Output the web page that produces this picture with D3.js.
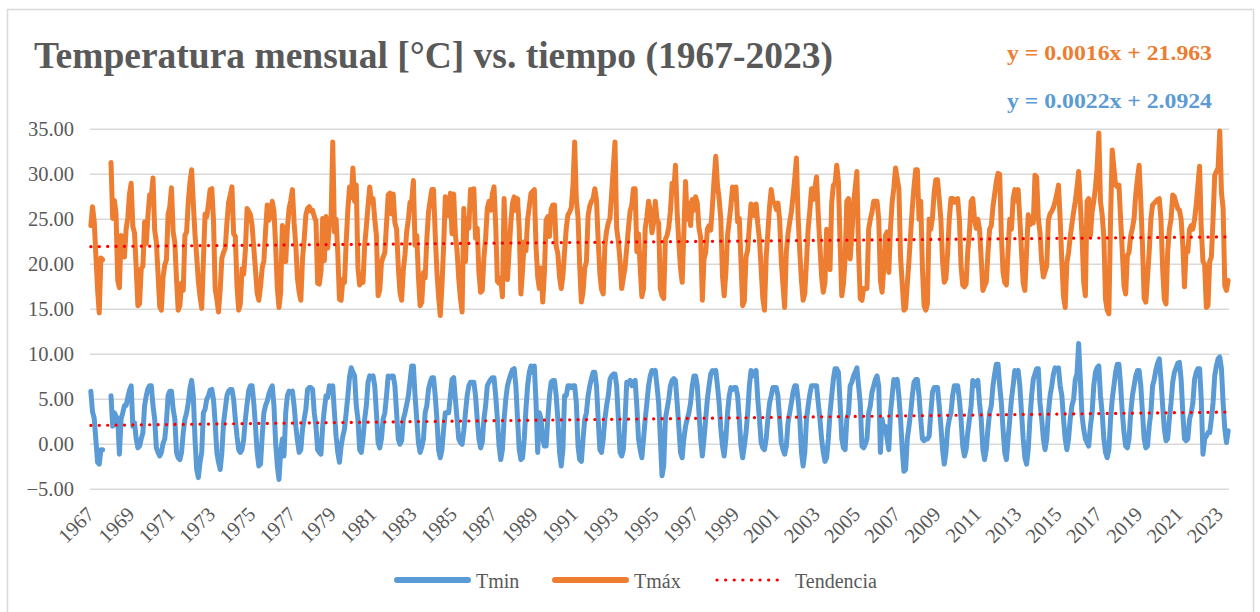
<!DOCTYPE html>
<html>
<head>
<meta charset="utf-8">
<script src="https://cdn.jsdelivr.net/npm/d3@7/dist/d3.min.js"></script>
<style>
  html, body { margin: 0; padding: 0; background: #fff; }
  svg { display: block; font-family: "Liberation Serif", "Times New Roman", serif; }
</style>
</head>
<body>
<svg id="chart" width="1260" height="612"></svg>
<script>
// monthly values, Jan 1967 .. Jun 2023, one row per year
const tmax = [
  24.3,26.4,24.8,21.0,17.2,14.6,20.7,20.5,null,null,null,null,
  31.3,25.1,27.1,25.6,18.2,17.4,23.2,23.0,20.8,23.9,25.2,27.8,
  29.0,24.2,23.5,19.6,15.4,15.6,19.5,19.8,24.7,22.3,25.4,27.7,
  27.6,29.6,23.8,22.5,18.9,15.3,14.9,18.6,19.9,20.5,25.6,26.4,
  28.5,23.6,22.4,18.3,14.9,15.4,17.9,17.1,23.2,23.6,26.9,29.1,
  30.5,26.8,23.3,20.9,18.1,16.4,15.1,20.4,25.6,25.3,26.7,28.3,
  28.4,25.0,17.3,16.1,14.7,17.2,20.7,21.3,21.8,24.6,26.9,27.7,
  28.6,23.4,23.1,17.6,14.9,15.6,19.5,18.9,21.6,26.2,25.9,25.5,
  24.3,21.8,19.4,16.8,16.0,17.5,19.6,20.4,23.7,26.6,24.9,25.5,
  27.0,25.9,22.1,17.4,15.2,16.9,24.3,23.6,20.3,24.0,26.2,27.1,
  28.3,24.6,22.1,18.4,16.9,16.0,20.6,22.8,25.5,26.2,26.4,25.9,
  26.0,25.3,24.8,17.9,17.8,19.2,25.1,20.4,25.3,21.8,24.5,25.0,
  33.6,23.6,25.0,21.2,16.1,16.0,18.3,18.0,22.5,26.1,28.6,27.4,
  30.7,27.0,28.8,19.6,17.7,18.2,18.0,22.1,24.2,26.5,28.6,26.9,
  27.3,25.0,23.2,16.5,17.2,20.2,20.8,21.3,24.5,27.7,27.9,25.6,
  27.8,24.6,23.9,19.8,16.9,16.0,19.3,21.1,23.6,25.0,26.9,27.0,
  29.3,22.1,23.2,18.6,15.4,15.8,19.1,18.5,22.8,25.8,27.1,28.3,
  28.3,23.3,19.2,16.4,14.3,17.6,22.0,27.5,27.2,25.4,27.9,23.4,
  27.8,23.3,21.5,18.4,16.2,14.7,26.2,20.3,25.1,24.0,28.3,27.1,
  28.4,22.9,24.0,19.1,16.9,17.1,20.8,22.9,26.2,27.0,26.0,27.8,
  28.6,24.3,18.1,17.9,18.5,16.4,27.3,22.0,18.3,21.5,24.6,26.8,
  27.5,26.0,27.3,24.0,16.7,19.4,22.5,21.5,25.0,26.4,27.9,28.1,
  28.3,22.0,18.6,17.3,19.6,15.8,19.1,24.9,25.3,23.1,26.1,26.6,
  26.6,22.0,21.2,18.6,17.3,18.7,21.4,24.0,25.5,25.8,26.3,28.8,
  33.6,27.2,25.2,19.8,15.8,16.9,19.6,20.3,25.4,26.5,27.0,27.3,
  28.4,27.1,22.6,19.0,17.2,16.7,22.1,23.7,24.6,25.1,27.8,30.7,
  33.6,24.0,22.6,20.4,17.3,18.5,19.7,21.8,24.0,25.9,26.6,28.4,
  28.4,21.4,23.4,19.6,16.4,17.3,24.0,25.3,27.0,25.9,23.5,24.6,
  27.0,25.0,24.6,17.3,16.5,16.2,22.8,23.2,24.1,25.9,29.0,28.1,
  31.0,25.8,22.4,19.6,18.0,23.5,29.2,25.0,26.8,24.3,27.2,26.0,
  27.5,26.8,24.0,23.0,16.0,20.6,21.3,23.9,24.3,23.8,26.5,29.4,
  32.0,28.8,27.3,25.0,18.7,16.5,19.1,23.2,24.8,26.5,28.6,27.3,
  28.6,24.7,25.1,20.3,15.4,15.9,20.8,21.6,24.3,26.7,26.5,25.4,
  26.7,24.5,22.8,19.5,16.2,14.9,20.8,23.5,26.4,28.3,27.0,26.8,
  26.1,26.8,25.0,20.3,17.7,15.2,21.4,23.4,24.7,25.8,27.6,29.5,
  31.8,25.3,21.4,18.2,16.0,16.8,20.3,24.0,26.0,28.4,27.2,28.5,
  29.7,25.5,22.0,18.6,16.9,18.0,23.9,23.5,19.4,26.8,28.8,29.0,
  31.0,29.2,22.4,16.5,17.8,20.6,27.0,27.3,20.6,23.3,26.8,28.5,
  30.3,21.4,16.2,16.0,17.3,17.3,17.3,23.9,25.0,25.8,27.0,27.0,
  27.0,25.0,18.2,16.9,19.6,23.2,23.6,19.1,24.0,26.9,28.5,30.7,
  29.5,28.4,20.8,17.8,14.9,15.1,17.8,20.4,23.4,26.3,28.6,30.5,
  30.5,25.0,27.0,19.6,15.4,14.9,15.6,25.0,23.9,25.2,28.0,29.4,
  29.4,27.3,25.0,20.3,18.0,18.4,21.2,25.0,27.3,27.3,26.9,27.2,
  27.3,25.0,19.8,17.7,17.5,17.8,21.5,23.5,27.0,27.3,25.0,24.0,
  25.0,23.9,20.6,17.1,17.6,18.0,21.2,23.9,24.3,26.4,27.8,29.2,
  30.1,30.0,23.2,19.1,18.0,17.7,21.5,25.0,23.9,27.3,28.3,27.0,
  28.3,25.0,21.4,17.9,17.1,21.4,25.5,24.4,25.0,24.6,29.9,29.7,
  25.1,23.5,20.3,18.6,19.2,19.8,24.9,25.6,25.9,26.3,27.0,27.8,
  28.8,25.0,20.3,16.4,15.2,20.2,21.3,23.1,24.5,25.8,27.0,28.5,
  30.3,26.7,23.2,18.0,16.5,27.0,27.3,23.2,25.8,27.0,28.5,30.7,
  34.6,27.0,25.5,23.0,16.1,14.9,14.5,25.1,32.7,30.7,28.8,28.6,
  28.8,25.0,21.4,17.6,16.7,21.0,21.3,23.2,24.0,25.1,27.8,29.5,
  31.0,27.0,22.1,16.2,15.8,18.6,21.4,25.0,26.6,26.8,27.0,27.2,
  27.3,25.0,19.5,16.1,15.6,21.4,23.9,25.0,27.7,27.5,26.8,26.2,
  26.0,25.0,22.1,17.5,21.8,21.4,23.9,24.3,23.9,25.0,26.6,28.8,
  30.9,23.9,20.3,20.0,15.2,15.4,20.3,20.8,25.0,29.9,30.3,30.7,
  34.8,28.0,26.2,17.6,17.1,18.2
];

const tmin = [
  5.9,3.6,2.9,0.5,-2.0,-2.2,-0.6,-0.6,null,null,null,null,
  5.4,2.0,3.5,3.1,2.8,-1.1,2.8,3.5,4.3,4.3,5.2,6.0,
  6.5,2.0,2.4,0.6,-0.4,-0.2,0.6,1.3,4.3,5.4,6.2,6.5,
  6.5,4.3,2.8,-0.4,-0.9,-1.3,-0.9,0.1,0.6,2.5,5.4,5.9,
  5.9,3.9,2.8,-0.9,-1.5,-1.7,-0.9,1.3,2.8,3.5,4.6,6.2,
  7.1,5.4,0.6,-2.8,-3.7,-2.0,-0.9,3.5,3.9,5.0,5.4,6.0,
  6.1,5.0,2.4,-0.9,-2.0,-2.8,-0.9,2.4,3.9,5.4,5.9,6.1,
  6.1,5.0,2.8,0.9,-0.6,-0.9,-0.6,0.6,2.8,4.5,6.0,6.5,
  6.5,4.6,2.0,-0.9,-2.4,-2.2,0.9,3.5,4.3,4.8,5.6,6.1,
  6.5,4.3,0.2,-2.4,-3.9,-0.9,0.6,-1.3,3.5,5.4,5.9,5.8,
  5.9,4.3,2.0,0.4,-0.9,-0.6,1.7,2.8,3.9,6.1,6.3,6.3,
  6.1,3.5,2.0,-0.6,-0.9,-1.1,2.0,3.9,5.4,5.2,6.5,6.3,
  6.5,3.5,0.9,-0.9,-2.0,-0.2,0.9,1.7,3.5,5.4,7.5,8.5,
  8.0,7.6,4.3,2.8,-0.6,-0.9,0.6,2.8,4.3,6.9,7.6,7.4,
  7.6,6.5,3.5,0.2,-0.4,0.6,2.8,3.5,5.4,7.6,7.4,7.6,
  7.6,6.5,3.5,0.6,0.0,0.4,2.8,3.5,4.4,5.4,7.0,8.7,
  8.7,5.4,2.8,0.2,-0.9,-0.3,0.6,3.5,4.3,6.1,6.9,7.4,
  7.4,5.4,2.8,-0.6,-1.5,-0.6,1.7,3.5,3.5,3.5,5.4,7.2,
  7.4,5.0,2.8,0.6,0.2,0.0,1.5,3.5,5.4,6.5,6.9,6.9,
  6.9,5.4,2.8,0.6,-0.4,0.2,2.8,4.3,6.5,6.9,7.2,7.4,
  7.4,5.4,2.8,-0.2,-1.7,-0.6,2.8,5.0,6.5,7.2,7.8,8.3,
  8.4,6.5,2.8,-0.6,-1.7,-1.5,0.6,3.9,6.5,8.0,8.7,8.0,
  8.7,4.6,-0.9,3.5,2.8,0.6,-0.2,-0.2,2.8,5.4,6.9,7.1,
  7.1,5.4,2.8,-0.9,-2.4,-0.6,5.4,5.4,6.5,6.5,6.3,6.5,
  6.5,4.6,-0.2,-1.7,-1.9,0.6,2.8,3.5,5.4,6.5,7.3,8.0,
  8.0,6.5,2.8,-0.6,-0.9,0.6,2.8,4.3,5.4,7.2,7.6,7.8,
  7.8,6.5,2.8,-0.9,-1.3,-0.6,2.8,6.9,6.9,7.1,6.5,6.9,
  7.1,4.3,0.6,-0.6,-1.5,0.6,2.8,4.6,6.5,7.6,8.2,8.0,
  8.2,6.5,4.6,0.6,-3.5,-2.4,2.8,3.9,5.0,6.5,7.1,7.3,
  7.1,4.6,2.0,-0.9,-1.5,0.6,2.0,2.8,3.5,4.6,6.5,7.6,
  7.6,6.5,3.5,0.6,-1.3,0.6,2.8,5.0,6.5,7.8,8.2,8.0,
  8.2,6.5,4.6,1.7,-0.2,-1.3,0.6,3.5,5.4,6.3,6.1,6.3,
  6.3,5.4,2.8,-0.2,-1.5,-0.2,1.3,3.5,6.5,8.2,7.6,8.0,
  8.2,5.0,2.8,0.2,-0.4,-0.6,0.6,2.8,4.6,5.4,6.3,6.3,
  6.3,5.4,2.8,0.2,-0.6,-1.1,-0.2,2.4,3.5,4.6,5.8,6.5,
  6.5,5.0,2.8,-0.9,-2.4,-0.9,2.8,4.3,5.6,6.5,6.5,6.5,
  6.5,4.6,2.8,0.6,-0.9,-1.9,-1.5,0.6,3.5,5.4,7.2,8.4,
  8.4,8.0,4.6,0.6,-0.4,-0.6,2.8,3.5,6.5,6.9,7.6,8.0,
  8.5,6.5,4.6,-0.2,-0.4,0.0,0.6,3.5,4.3,5.8,6.5,7.2,
  7.6,6.5,-0.9,2.8,1.7,2.0,0.6,-0.6,3.5,5.4,7.2,7.0,
  7.2,5.4,2.8,-0.6,-3.0,-2.8,0.6,2.0,3.5,5.4,6.9,7.2,
  7.2,5.4,2.8,0.6,0.4,0.6,0.6,0.9,3.5,5.8,6.3,6.3,
  6.3,4.3,2.0,-0.6,-2.2,-0.9,1.7,2.8,3.5,5.4,6.5,6.5,
  6.5,5.0,2.8,-0.2,-1.3,-0.6,1.3,2.8,4.3,7.1,6.5,6.9,
  7.1,4.6,2.8,-0.6,-1.7,-0.6,1.7,3.5,4.3,6.5,7.8,8.9,
  8.9,6.5,4.6,1.7,-0.9,-1.7,0.6,2.8,5.0,6.5,8.2,8.0,
  8.2,6.5,3.5,0.6,-1.5,-2.2,-0.6,2.8,5.4,7.2,7.8,8.4,
  8.4,4.6,2.8,0.6,-0.6,0.6,3.5,5.4,6.5,7.8,8.5,8.3,
  8.5,6.5,5.4,2.8,0.6,-0.6,0.6,2.8,4.3,5.0,7.2,7.8,
  11.2,7.2,3.2,1.7,0.6,0.2,-0.2,2.0,3.5,6.5,8.0,8.5,
  8.7,5.4,3.5,0.6,-0.9,-1.5,-0.6,2.8,5.0,6.5,8.0,8.9,
  8.9,6.5,3.5,1.3,-0.2,-0.4,0.6,3.5,5.4,6.5,7.6,8.2,
  8.2,6.5,3.5,0.6,-0.4,-0.2,2.0,3.5,6.5,7.2,8.3,9.0,
  9.5,7.2,4.3,1.7,0.4,0.6,2.8,4.6,6.9,8.0,8.5,9.0,
  9.1,7.2,3.5,0.6,0.4,0.6,2.8,3.5,4.6,7.2,8.0,8.4,
  8.4,5.0,-1.1,0.6,0.9,1.3,1.3,2.8,4.6,7.6,8.7,9.5,
  9.7,8.4,4.6,1.7,0.2,1.5
];

// linear trend as printed on the chart (x = month number, 1-based)
const trendMax = [0.0016, 21.963];
const trendMin = [0.0022, 2.0924];

const firstYear = 1967;
const yTicks = [-5, 0, 5, 10, 15, 20, 25, 30, 35];
const xTickYears = [1967, 1969, 1971, 1973, 1975, 1977, 1979, 1981, 1983, 1985,
  1987, 1989, 1991, 1993, 1995, 1997, 1999, 2001, 2003, 2005, 2007, 2009, 2011,
  2013, 2015, 2017, 2019, 2021, 2023];

const colors = { min: '#5B9BD5', max: '#ED7D31', trend: '#FF0000', text: '#595959', grid: '#D9D9D9' };

const svg = d3.select('#chart');
const n = tmax.length;

const plot = { left: 90, right: 1229, top: 129.3, bottom: 489.3 };

const x = d3.scaleLinear().domain([-0.5, n - 0.5]).range([plot.left, plot.right]);
const y = d3.scaleLinear().domain([-5, 35]).range([plot.bottom, plot.top]);

svg.append('rect')
  .attr('width', 1260).attr('height', 612).attr('fill', '#fff');

// chart frame
svg.append('rect')
  .attr('x', 7.5).attr('y', 9.5)
  .attr('width', 1246).attr('height', 620)
  .attr('fill', 'none')
  .attr('stroke', colors.grid)
  .attr('stroke-width', 1.5);

// title
svg.append('text')
  .attr('x', 34).attr('y', 68)
  .attr('fill', colors.text)
  .style('font-size', '37.5px')
  .style('font-weight', 'bold')
  .text('Temperatura mensual [°C] vs. tiempo (1967-2023)');

// gridlines
svg.append('g')
  .selectAll('line')
  .data(yTicks)
  .join('line')
  .attr('x1', plot.left).attr('x2', plot.right)
  .attr('y1', (d) => y(d)).attr('y2', (d) => y(d))
  .attr('stroke', colors.grid)
  .attr('stroke-width', 1.5);

// y axis labels
const yAxis = svg.append('g')
  .attr('transform', `translate(${plot.left},0)`)
  .call(d3.axisLeft(y).tickValues(yTicks).tickFormat(d3.format('.2f')).tickSize(0).tickPadding(16));
yAxis.select('.domain').remove();
yAxis.selectAll('text')
  .attr('fill', colors.text)
  .style('font-family', '"Liberation Serif", "Times New Roman", serif')
  .style('font-size', '20.5px');

// x axis labels, rotated
const xAxis = svg.append('g')
  .attr('transform', `translate(0,${plot.bottom})`)
  .call(d3.axisBottom(x)
    .tickValues(xTickYears.map((yr) => (yr - firstYear) * 12))
    .tickFormat((d) => String(firstYear + d / 12))
    .tickSize(0));
xAxis.select('.domain').remove();
xAxis.selectAll('text')
  .attr('x', 0).attr('y', 0).attr('dy', '0.35em')
  .attr('transform', 'translate(-1,21) rotate(-45)')
  .style('text-anchor', 'end')
  .attr('fill', colors.text)
  .style('font-family', '"Liberation Serif", "Times New Roman", serif')
  .style('font-size', '20.5px');

// series
const line = d3.line()
  .defined((d) => d != null)
  .x((d, i) => x(i))
  .y((d) => y(d));

svg.append('path')
  .datum(tmin)
  .attr('d', line)
  .attr('fill', 'none')
  .attr('stroke', colors.min)
  .attr('stroke-width', 5)
  .attr('stroke-linejoin', 'round')
  .attr('stroke-linecap', 'round');

svg.append('path')
  .datum(tmax)
  .attr('d', line)
  .attr('fill', 'none')
  .attr('stroke', colors.max)
  .attr('stroke-width', 5)
  .attr('stroke-linejoin', 'round')
  .attr('stroke-linecap', 'round');

// trend lines
[trendMin, trendMax].forEach(([a, b]) => {
  svg.append('line')
    .attr('x1', x(0)).attr('x2', x(n - 1))
    .attr('y1', y(a * 1 + b)).attr('y2', y(a * n + b))
    .attr('stroke', colors.trend)
    .attr('stroke-width', 3.2)
    .attr('stroke-linecap', 'round')
    .attr('stroke-dasharray', '0.1 8.3');
});

// trend equations
const eqs = [
  { text: 'y = 0.0016x + 21.963', color: colors.max, y: 59.5 },
  { text: 'y = 0.0022x + 2.0924', color: colors.min, y: 107.5 }
];
svg.append('g')
  .selectAll('text')
  .data(eqs)
  .join('text')
  .attr('x', 1007).attr('y', (d) => d.y)
  .attr('fill', (d) => d.color)
  .attr('textLength', 205)
  .attr('lengthAdjust', 'spacingAndGlyphs')
  .style('font-size', '20.5px')
  .style('font-weight', 'bold')
  .text((d) => d.text);

// legend
const legend = [
  { label: 'Tmin', color: colors.min, x: 397, dots: false },
  { label: 'Tmáx', color: colors.max, x: 555, dots: false },
  { label: 'Tendencia', color: colors.trend, x: 717, dots: true }
];
const lg = svg.append('g').attr('transform', 'translate(0,580)');
const item = lg.selectAll('g').data(legend).join('g')
  .attr('transform', (d) => `translate(${d.x},0)`);
item.append('line')
  .attr('x1', 0).attr('x2', (d) => (d.dots ? 68 : 71))
  .attr('stroke', (d) => d.color)
  .attr('stroke-width', (d) => (d.dots ? 3.2 : 6))
  .attr('stroke-linecap', 'round')
  .attr('stroke-dasharray', (d) => (d.dots ? '0.1 8.5' : null));
item.append('text')
  .attr('x', (d) => (d.dots ? 78 : 79))
  .attr('y', 8.3)
  .attr('fill', colors.text)
  .style('font-size', '20px')
  .text((d) => d.label);
</script>
</body>
</html>
